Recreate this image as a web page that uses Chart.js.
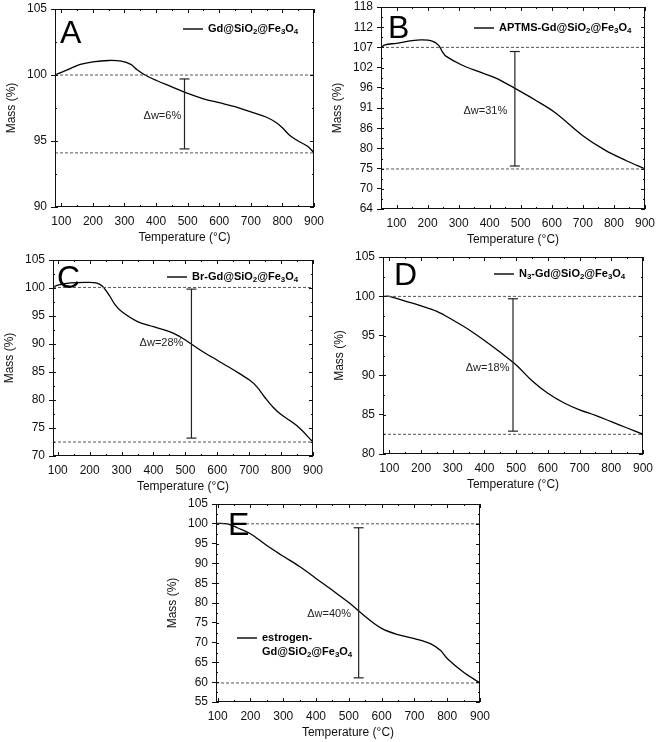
<!DOCTYPE html>
<html>
<head>
<meta charset="utf-8">
<script src="https://cdn.jsdelivr.net/npm/chart.js@4.4.0/dist/chart.umd.min.js"></script>
<style>
  html, body { margin: 0; padding: 0; background: #fff; }
  body { width: 662px; height: 742px; position: relative; overflow: hidden; }
  canvas { position: absolute; }
</style>
</head>
<body>
<canvas id="cA"></canvas>
<canvas id="cB"></canvas>
<canvas id="cC"></canvas>
<canvas id="cD"></canvas>
<canvas id="cE"></canvas>
<script>
// ---- data ----
const xTicks = [100, 200, 300, 400, 500, 600, 700, 800, 900];

const tempA = [80, 100, 130, 160, 200, 250, 290, 320, 340, 365, 400, 450, 500, 550, 600, 650, 700, 750, 780, 800, 820, 850, 880, 900];
const massA = [100.0, 100.2, 100.5, 100.8, 101.0, 101.1, 101.05, 100.8, 100.4, 100.0, 99.6, 99.1, 98.6, 98.2, 97.9, 97.6, 97.2, 96.8, 96.4, 96.0, 95.5, 95.0, 94.6, 94.1];
const yTicksA = [90, 95, 100, 105];
const levelsA = [100.0, 94.1];
const barA = [490, 94.4, 99.7];

const tempB = [50, 63, 100, 150, 180, 215, 235, 248, 260, 310, 365, 420, 480, 545, 610, 700, 770, 840, 900];
const massB = [107.2, 107.9, 108.3, 109.0, 109.2, 108.9, 107.8, 106.0, 104.8, 102.5, 100.7, 99.0, 96.3, 93.2, 89.8, 83.6, 79.8, 76.9, 74.7];
const yLabelsB = ['64', '70', '75', '80', '86', '91', '96', '102', '107', '112', '118'];
const levelsB = [107.2, 74.7];
const barB = [481, 75.5, 106.1];

const tempC = [85, 100, 140, 190, 220, 240, 260, 280, 300, 350, 400, 450, 480, 500, 550, 600, 650, 700, 725, 750, 775, 800, 850, 900];
const massC = [100.2, 100.5, 100.9, 101.0, 100.9, 100.3, 98.8, 97.0, 95.8, 94.0, 93.1, 92.2, 91.4, 90.7, 88.8, 87.1, 85.4, 83.6, 82.3, 80.4, 78.7, 77.4, 75.4, 72.5];
const yTicksC = [70, 75, 80, 85, 90, 95, 100, 105];
const levelsC = [100.1, 72.5];
const barC = [519, 73.2, 99.8];

const tempD = [80, 100, 150, 200, 250, 300, 350, 400, 450, 500, 550, 600, 650, 700, 750, 800, 850, 900];
const massD = [100.0, 100.0, 99.4, 98.8, 98.1, 97.0, 95.8, 94.4, 92.9, 91.3, 89.3, 87.7, 86.5, 85.6, 84.9, 84.1, 83.3, 82.5];
const yTicksD = [80, 85, 90, 95, 100, 105];
const levelsD = [100.0, 82.5];
const barD = [490, 82.9, 99.7];

const tempE = [95, 130, 160, 200, 250, 300, 350, 400, 450, 500, 550, 600, 650, 700, 750, 780, 800, 850, 900];
const massE = [100.1, 100.0, 99.0, 97.5, 94.5, 91.8, 89.2, 86.2, 83.2, 80.1, 76.6, 73.6, 72.0, 71.0, 69.7, 68.0, 66.0, 62.5, 59.8];
const yTicksE = [55, 60, 65, 70, 75, 80, 85, 90, 95, 100, 105];
const levelsE = [100.0, 59.8];
const barE = [530, 61.1, 99.0];

const FONT = '"Liberation Sans", Arial, sans-serif';
const PAD_L = 55, PAD_T = 12, PAD_R = 12, PAD_B = 42;

function toXY(xs, ys) {
  return xs.map((x, i) => ({x: x, y: ys[i]}));
}

// draws text where "_3" means a subscript 3
function drawRich(ctx, str, x, y, size) {
  const parts = str.split(/_(\d)/);
  parts.forEach((s, i) => {
    if (!s) return;
    const sub = i % 2 === 1;
    ctx.font = 'bold ' + (sub ? size * 0.72 : size) + 'px ' + FONT;
    ctx.fillText(s, x, y + (sub ? size * 0.3 : 0));
    x += ctx.measureText(s).width;
  });
}

// box frame with inward ticks (major + minor)
const framePlugin = {
  id: 'frame',
  afterDraw(chart) {
    const {ctx, chartArea: a, scales: {x, y}} = chart;
    ctx.save();
    ctx.strokeStyle = '#111';
    ctx.lineWidth = 1;
    ctx.strokeRect(Math.round(a.left) + 0.5, Math.round(a.top) + 0.5,
                   Math.round(a.right - a.left) - 1, Math.round(a.bottom - a.top) - 1);
    ctx.beginPath();
    const xt = x.ticks.map(t => t.value);
    const xs = [];
    xt.forEach((v, i) => {
      xs.push([v, 4]);
      if (i < xt.length - 1) xs.push([(v + xt[i + 1]) / 2, 2]);
    });
    if (xt[0] - 50 > x.min) xs.push([xt[0] - 50, 2]);
    xs.forEach(([v, len]) => {
      const px = Math.round(x.getPixelForValue(v)) + 0.5;
      ctx.moveTo(px, a.bottom); ctx.lineTo(px, a.bottom - len);
      ctx.moveTo(px, a.top); ctx.lineTo(px, a.top + len);
    });
    const yt = y.ticks.map(t => t.value);
    yt.forEach((v, i) => {
      const py = Math.round(y.getPixelForValue(v)) + 0.5;
      ctx.moveTo(a.right, py); ctx.lineTo(a.right - 4, py);
      ctx.moveTo(a.left, py); ctx.lineTo(a.left + 3, py);
      if (i < yt.length - 1) {
        const pm = Math.round(y.getPixelForValue((v + yt[i + 1]) / 2)) + 0.5;
        ctx.moveTo(a.right, pm); ctx.lineTo(a.right - 2, pm);
        ctx.moveTo(a.left, pm); ctx.lineTo(a.left + 2, pm);
      }
    });
    ctx.stroke();
    ctx.restore();
  }
};

// panel letter, legend and delta-w label
const textPlugin = {
  id: 'panelText',
  afterDraw(chart, args, o) {
    const {ctx, chartArea: a, scales: {x, y}} = chart;
    ctx.save();
    ctx.fillStyle = '#000';
    ctx.textBaseline = 'alphabetic';
    ctx.font = '32px ' + FONT;
    ctx.fillText(o.letter, a.left + o.letterAt[0], a.top + o.letterAt[1]);

    ctx.textBaseline = 'middle';
    const lx = a.left + o.legendAt[0], ly = a.top + o.legendAt[1];
    ctx.strokeStyle = '#000';
    ctx.lineWidth = 1.4;
    ctx.beginPath();
    ctx.moveTo(lx, ly); ctx.lineTo(lx + 20, ly);
    ctx.stroke();
    o.legend.forEach((s, i) => drawRich(ctx, s, lx + 25, ly + i * 14, 11));

    ctx.font = '11px ' + FONT;
    ctx.textAlign = 'center';
    ctx.fillStyle = '#222';
    ctx.fillText(o.dw, x.getPixelForValue(o.dwAt[0]), y.getPixelForValue(o.dwAt[1]));
    ctx.restore();
  }
};

function makePanel(p) {
  const cv = document.getElementById(p.id);
  const w = p.box[2] - p.box[0] + PAD_L + PAD_R;
  const h = p.box[3] - p.box[1] + PAD_T + PAD_B;
  cv.width = w; cv.height = h;
  cv.style.width = w + 'px'; cv.style.height = h + 'px';
  cv.style.left = (p.box[0] - PAD_L) + 'px';
  cv.style.top = (p.box[1] - PAD_T) + 'px';

  const datasets = [];
  p.levels.forEach(v => datasets.push({
    data: [{x: p.xmin, y: v}, {x: 900, y: v}],
    borderColor: '#555', borderWidth: 1, borderDash: [3, 2], pointRadius: 0
  }));
  datasets.push({
    data: [{x: p.bar[0], y: p.bar[1]}, {x: p.bar[0], y: p.bar[2]}],
    borderColor: '#222', borderWidth: 1.2,
    pointStyle: 'line', pointRadius: 5, pointBorderWidth: 1.2, pointBorderColor: '#222'
  });
  datasets.push({
    data: toXY(p.temp, p.mass),
    borderColor: '#000', borderWidth: 1.3, pointRadius: 0,
    tension: 0.35
  });

  return new Chart(cv, {
    type: 'line',
    data: {datasets: datasets},
    plugins: [framePlugin, textPlugin],
    options: {
      responsive: false,
      animation: false,
      events: [],
      layout: {padding: {left: 0, top: PAD_T, right: PAD_R, bottom: 0}},
      plugins: {
        legend: {display: false},
        tooltip: {enabled: false},
        panelText: {letter: p.letter, letterAt: p.letterAt, legend: p.legend, legendAt: p.legendAt, dw: p.dw, dwAt: p.dwAt}
      },
      scales: {
        x: {
          type: 'linear', min: p.xmin, max: 900,
          afterBuildTicks: s => { s.ticks = xTicks.map(v => ({value: v})); },
          afterFit: s => { s.height = PAD_B; },
          grid: {drawOnChartArea: false, drawTicks: false},
          border: {display: false},
          ticks: {padding: 7, color: '#111', autoSkip: false, maxRotation: 0, font: {family: FONT, size: 12}},
          title: {display: true, text: 'Temperature (°C)', color: '#111', padding: {top: 0, bottom: 4}, font: {family: FONT, size: 12}}
        },
        y: {
          type: 'linear', min: p.ymin, max: p.ymax,
          afterBuildTicks: s => { s.ticks = p.yVals.map(v => ({value: v})); },
          afterFit: s => { s.width = PAD_L; },
          grid: {drawOnChartArea: false, tickLength: 4, color: '#111'},
          border: {display: false},
          ticks: {padding: 4, color: '#111', autoSkip: false, font: {family: FONT, size: 12},
                  callback: (v, i) => p.yLabels[i]},
          title: {display: true, text: 'Mass (%)', color: '#111', padding: {top: 4, bottom: 4}, font: {family: FONT, size: 12}}
        }
      }
    }
  });
}

makePanel({id: 'cA', box: [55, 9, 319, 207], xmin: 80, ymin: 90, ymax: 105,
  yVals: yTicksA, yLabels: yTicksA.map(String), temp: tempA, mass: massA, levels: levelsA, bar: barA,
  dw: '\u0394w=6%', dwAt: [420, 96.9], letter: 'A', letterAt: [5, 34],
  legend: ['Gd@SiO_2@Fe_3O_4'], legendAt: [128, 20]});

makePanel({id: 'cB', box: [381, 7, 650, 209], xmin: 50, ymin: 64, ymax: 118,
  yVals: yLabelsB.map((s, i) => 64 + i * (118 - 64) / (yLabelsB.length - 1)), yLabels: yLabelsB,
  temp: tempB, mass: massB, levels: levelsB, bar: barB,
  dw: '\u0394w=31%', dwAt: [386, 90.1], letter: 'B', letterAt: [7, 31],
  legend: ['APTMS-Gd@SiO_2@Fe_3O_4'], legendAt: [93, 21]});

makePanel({id: 'cC', box: [53, 260, 318, 456], xmin: 85, ymin: 70, ymax: 105,
  yVals: yTicksC, yLabels: yTicksC.map(String), temp: tempC, mass: massC, levels: levelsC, bar: barC,
  dw: '\u0394w=28%', dwAt: [425, 90.1], letter: 'C', letterAt: [4, 28],
  legend: ['Br-Gd@SiO_2@Fe_3O_4'], legendAt: [114, 17]});

makePanel({id: 'cD', box: [383, 257, 648, 454], xmin: 80, ymin: 80, ymax: 105,
  yVals: yTicksD, yLabels: yTicksD.map(String), temp: tempD, mass: massD, levels: levelsD, bar: barD,
  dw: '\u0394w=18%', dwAt: [410, 90.9], letter: 'D', letterAt: [11, 28],
  legend: ['N_3-Gd@SiO_2@Fe_3O_4'], legendAt: [111, 17]});

makePanel({id: 'cE', box: [216, 504, 485, 702], xmin: 95, ymin: 55, ymax: 105,
  yVals: yTicksE, yLabels: yTicksE.map(String), temp: tempE, mass: massE, levels: levelsE, bar: barE,
  dw: '\u0394w=40%', dwAt: [440, 77.3], letter: 'E', letterAt: [12, 31],
  legend: ['estrogen-', 'Gd@SiO_2@Fe_3O_4'], legendAt: [21, 134]});
</script>
</body>
</html>
